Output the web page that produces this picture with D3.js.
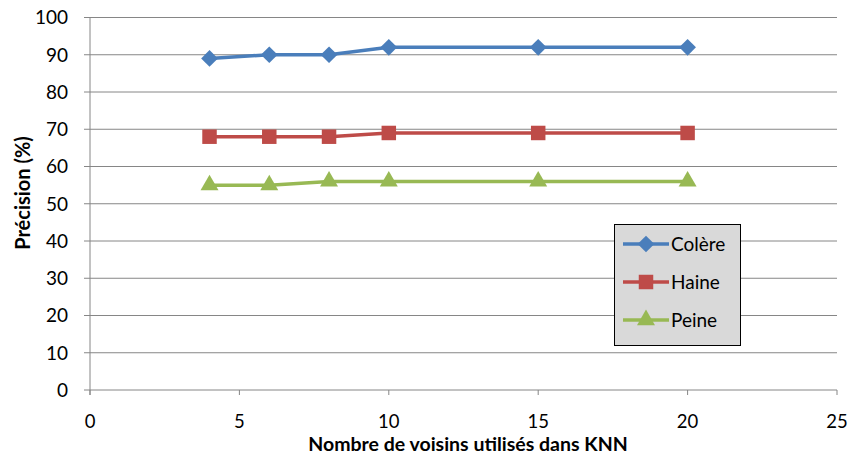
<!DOCTYPE html>
<html><head><meta charset="utf-8">
<script src="https://cdn.jsdelivr.net/npm/d3@7"></script>
<style>body{margin:0;background:#fff}svg{display:block}text{font-family:Lato,"Open Sans",sans-serif}</style>
</head><body><svg id="c" width="852" height="457"></svg>
<script>
const kValues = [4, 6, 8, 10, 15, 20];
const colere = [89, 90, 90, 92, 92, 92];
const haine = [68, 68, 68, 69, 69, 69];
const peine = [55, 55, 56, 56, 56, 56];
const seriesNames = ["Colère", "Haine", "Peine"];
const xTicks = [0, 5, 10, 15, 20, 25];
const yTicks = [0, 10, 20, 30, 40, 50, 60, 70, 80, 90, 100];

const svg = d3.select("#c");
const x = d3.scaleLinear().domain([0, 25]).range([90, 837]);
const y = d3.scaleLinear().domain([0, 100]).range([390, 17.5]);
const grid = "#868686";

svg.append("g").selectAll("line").data(yTicks).join("line")
  .attr("x1", 84).attr("x2", 837).attr("y1", d => y(d)).attr("y2", d => y(d))
  .attr("stroke", grid).attr("stroke-width", 1);
svg.append("line").attr("x1", 90).attr("x2", 90).attr("y1", y(100)).attr("y2", y(0)+5)
  .attr("stroke", grid).attr("stroke-width", 1);
svg.append("g").selectAll("line").data(xTicks).join("line")
  .attr("x1", d => x(d)).attr("x2", d => x(d)).attr("y1", y(0)).attr("y2", y(0)+5)
  .attr("stroke", grid);
svg.append("g").selectAll("text").data(yTicks).join("text")
  .attr("x", 68).attr("y", d => y(d)).attr("dy", "0.36em").attr("text-anchor", "end")
  .attr("font-size", 19).attr("fill", "#000").text(d => d);
svg.append("g").selectAll("text").data(xTicks).join("text")
  .attr("x", d => x(d)).attr("y", 428).attr("text-anchor", "middle")
  .attr("font-size", 18.5).attr("fill", "#000").text(d => d);
svg.append("text").attr("x", 468).attr("y", 451).attr("text-anchor", "middle")
  .attr("font-size", 19.5).attr("font-weight", "bold").text("Nombre de voisins utilisés dans KNN");
svg.append("text").attr("transform", "translate(30,193) rotate(-90)").attr("text-anchor", "middle")
  .attr("font-size", 20).attr("font-weight", "bold").text("Précision (%)");

const colors = ["#4a7ebb", "#be4b48", "#98b954"];
const data = [colere, haine, peine];
const squareDiamond = { draw(ctx, size) { const r = Math.sqrt(size / 2);
  ctx.moveTo(0, -r); ctx.lineTo(r, 0); ctx.lineTo(0, r); ctx.lineTo(-r, 0); ctx.closePath(); } };
const symbols = [squareDiamond, d3.symbolSquare, d3.symbolTriangle];
const sizes = [140, 210, 140];
const line = d3.line().x((d, i) => x(kValues[i])).y(d => y(d));

data.forEach((vals, s) => {
  svg.append("path").datum(vals).attr("d", line).attr("fill", "none")
    .attr("stroke", colors[s]).attr("stroke-width", 3.5);
  svg.append("g").selectAll("path").data(vals).join("path")
    .attr("transform", (d, i) => `translate(${x(kValues[i])},${y(d)})`)
    .attr("d", d3.symbol().type(symbols[s]).size(sizes[s])).attr("fill", colors[s]);
});

const lg = svg.append("g");
lg.append("rect").attr("x", 614.5).attr("y", 224.5).attr("width", 126).attr("height", 121)
  .attr("fill", "#d9d9d9").attr("stroke", "#000").attr("stroke-width", 1);
seriesNames.forEach((n, s) => {
  const ly = 244 + s * 38;
  lg.append("line").attr("x1", 623).attr("x2", 669).attr("y1", ly).attr("y2", ly)
    .attr("stroke", colors[s]).attr("stroke-width", 3.5);
  lg.append("path").attr("transform", `translate(646,${ly})`)
    .attr("d", d3.symbol().type(symbols[s]).size(sizes[s])).attr("fill", colors[s]);
  lg.append("text").attr("x", 671).attr("y", ly).attr("dy", "0.36em")
    .attr("font-size", 19).text(n);
});
</script></body></html>
